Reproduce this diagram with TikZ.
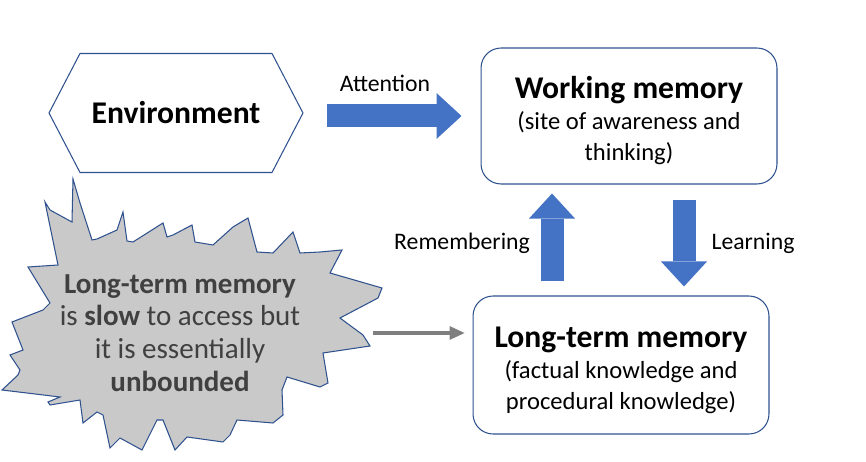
\documentclass[tikz,border=0pt]{standalone}
\usepackage{fontspec}
\setmainfont{Carlito}
\usepackage{xcolor}
\usepackage{tikz}
\usetikzlibrary{arrows.meta, shapes.symbols}
\definecolor{officeblue}{HTML}{4472C4}
\definecolor{edgeblue}{HTML}{2F528F}
\definecolor{cloudgray}{HTML}{C9C9C9}
\definecolor{textgray}{HTML}{404040}
\definecolor{linkgray}{HTML}{7F7F7F}

\begin{document}
\begin{tikzpicture}[x=0.02cm, y=-0.02cm,
  membox/.style={draw=edgeblue, line width=0.6pt, rounded corners=0.4cm, fill=white, align=center,
    minimum width=5.92cm, font=\fontsize{14}{17.6}\selectfont},
  blockarrow/.style={officeblue, line width=0.46cm, -{Triangle[length=0.5cm, width=0.92cm, line width=0pt]}},
  flowlabel/.style={font=\fontsize{13.5}{16}\selectfont}]
  \useasboundingbox (0,0) rectangle (866,462);

  % Environment and working memory
  \node[draw=edgeblue, line width=0.6pt, signal, signal to=east and west, signal pointer angle=125,
    minimum width=5.08cm, minimum height=2.38cm, inner sep=0pt,
    font=\fontsize{18}{21}\selectfont\bfseries] (env) at (176,113) {Environment};
  \node[membox, minimum height=2.72cm] (wm) at (629,116)
    {\rule{0pt}{18pt}{\fontsize{18}{21}\selectfont\bfseries Working memory}\\ (site of awareness and\\ thinking)};
  \node[flowlabel] (attn) at (385,83) {Attention};
  \draw[blockarrow, shorten <=0.46cm, shorten >=0.38cm] (env.east |- wm.west) -- (wm.west);

  % Long-term memory
  \node[membox, minimum height=2.76cm] (ltm) at (621,365)
    {\rule{0pt}{18pt}{\fontsize{18}{21}\selectfont\bfseries Long-term memory}\\ (factual knowledge and\\ procedural knowledge)};
  \coordinate (remx) at (552,0);
  \coordinate (learnx) at (684,0);
  \draw[blockarrow, shorten <=0.28cm, shorten >=0.18cm] (remx |- ltm.north) -- (remx |- wm.south);
  \draw[blockarrow, shorten <=0.3cm, shorten >=0.18cm] (learnx |- wm.south) -- (learnx |- ltm.north);
  \node[flowlabel] (remem) at (462,243) {Remembering};
  \node[flowlabel] (learn) at (753,243) {Learning};

  % Explosion
  \draw[edgeblue, line width=0.6pt, fill=cloudgray] (45,202) -- (50,210) -- (72,222) -- (73,179) -- (80,203)
    -- (92,240) -- (97,239) -- (117,230) -- (123,212) -- (127,241) -- (133,242) -- (163,223) -- (167,237)
    -- (173,235) -- (192,225) -- (195,242) -- (213,245) -- (233,227) -- (248,218) -- (257,252) -- (273,253)
    -- (293,232) -- (300,253) -- (320,252) -- (342,250) -- (330,273) -- (382,288) -- (378,298) -- (340,318)
    -- (363,335) -- (370,346) -- (323,353) -- (328,383) -- (320,387) -- (287,377) -- (282,390) -- (283,415)
    -- (273,423) -- (237,420) -- (230,435) -- (223,442) -- (187,437) -- (175,450) -- (163,420) -- (157,420)
    -- (142,450) -- (120,438) -- (110,448) -- (103,415) -- (97,412) -- (83,423) -- (80,400) -- (50,405)
    -- (48,402) -- (60,397) -- (2,390) -- (18,375) -- (20,370) -- (10,355) -- (23,350) -- (12,322) -- (43,310)
    -- (50,303) -- (28,267) -- (58,265) -- cycle;
  \node[textgray, align=center, font=\fontsize{16.5}{18.7}\selectfont] (cloud) at (180,333)
    {\textbf{Long-term memory}\\ is \textbf{slow} to access but\\ it is essentially\\ \textbf{unbounded}};
  \coordinate (cloudout) at (373,333);
  \draw[linkgray, line width=0.09cm, -{Triangle[length=0.3cm, width=0.28cm, line width=0pt]}, shorten >=0.16cm]
    (cloudout) -- (cloudout -| ltm.west);
\end{tikzpicture}
\end{document}
